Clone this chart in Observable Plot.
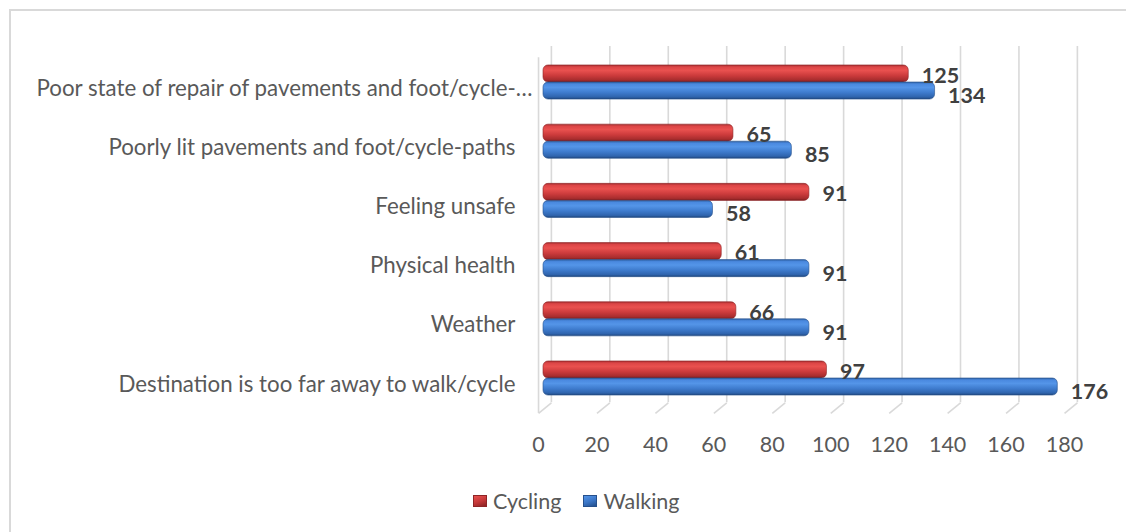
<!DOCTYPE html>
<html>
<head>
<meta charset="utf-8">
<script src="https://cdn.jsdelivr.net/npm/d3@7"></script>
<script src="https://cdn.jsdelivr.net/npm/@observablehq/plot@0.6"></script>
<style>
  body { margin: 0; background: #fff; font-family: Lato, "Open Sans", sans-serif; }
  #frame { position: absolute; left: 9px; top: 9px; width: 1300px; height: 700px;
           border-left: 2px solid #d9d9d9; border-top: 2px solid #d9d9d9; }
  #chart { position: absolute; left: 0; top: 0; }
  #legend { position: absolute; left: 473px; top: 488px; display: flex; align-items: center;
            font-size: 21.5px; color: #595959; }
  .item { display: flex; align-items: center; margin-right: 22px; }
  .sw { width: 14px; height: 12px; margin-right: 6px; box-sizing: border-box; }
</style>
</head>
<body>
<div id="frame"></div>
<div id="chart"></div>
<div id="legend"></div>
<script>
// ---- data ----
const categories = [
  "Destination is too far away to walk/cycle",
  "Weather",
  "Physical health",
  "Feeling unsafe",
  "Poorly lit pavements and foot/cycle-paths",
  "Poor state of repair of pavements and foot/cycle-…"
];
const cycling = [97, 66, 61, 91, 65, 125];
const walking = [176, 91, 91, 58, 85, 134];
const seriesNames = ["Cycling", "Walking"];
const xTicks = [0, 20, 40, 60, 80, 100, 120, 140, 160, 180];

// ---- layout constants (3D look) ----
const barH = 0.288;          // bar thickness in category units
const backOff = 2.7;         // depth offset of back wall (x units)
const frontOff = -1.7;       // depth offset of front edge (x units)
const floorFront = -0.59, floorBack = -0.41, wallTop = 5.61, leftTop = 5.42;

const rows = categories.flatMap((c, i) => [
  {cat: c, idx: i, series: seriesNames[0], value: cycling[i]},
  {cat: c, idx: i, series: seriesNames[1], value: walking[i]}
]);
const cyc = rows.filter(d => d.series === "Cycling");
const wal = rows.filter(d => d.series === "Walking");
const yTop = d => d.series === "Cycling" ? d.idx + barH : d.idx;
const yBot = d => d.series === "Cycling" ? d.idx : d.idx - barH;
const yMid = d => d.series === "Cycling" ? d.idx + barH / 2 : d.idx - barH / 2;

const font = "Lato, 'Open Sans', sans-serif";
const labelColor = "#595959";

const chart = Plot.plot({
  width: 1126,
  height: 470,
  marginLeft: 543,
  marginRight: 57,
  marginTop: 20,
  marginBottom: 40,
  style: {fontFamily: font, background: "transparent", overflow: "visible"},
  x: {domain: [0, 180]},
  y: {domain: [-0.8784, 6.0473], axis: null},
  marks: [
    // back wall gridlines
    Plot.ruleX(xTicks, {x: d => d + backOff, y1: floorBack, y2: wallTop, stroke: "#d9d9d9", strokeWidth: 1.6}),
    // floor diagonals
    Plot.link(xTicks, {x1: d => d + frontOff, x2: d => d + backOff, y1: floorFront, y2: floorBack,
                       stroke: "#d9d9d9", strokeWidth: 1.6}),
    // left wall front edge
    Plot.ruleX([0], {x: d => d + frontOff, y1: floorFront, y2: leftTop, stroke: "#d9d9d9", strokeWidth: 1.6}),
    // bars
    Plot.rect(cyc, {x1: () => 0, x2: "value", y1: yBot, y2: yTop, fill: "url(#gRed)",
                    stroke: "#8e2526", strokeWidth: 0.6, rx: 5}),
    Plot.rect(wal, {x1: () => 0, x2: "value", y1: yBot, y2: yTop, fill: "url(#gBlue)",
                    stroke: "#26508c", strokeWidth: 0.6, rx: 5}),
    // value labels
    Plot.text(cyc, {x: "value", y: yMid, text: d => String(d.value), dx: 13, dy: 2,
                     textAnchor: "start", fontWeight: "bold", fontSize: 21.5, fill: "#404040"}),
    Plot.text(wal, {x: "value", y: yMid, text: d => String(d.value), dx: 13, dy: 5,
                     textAnchor: "start", fontWeight: "bold", fontSize: 21.5, fill: "#404040"}),
    // category labels
    Plot.text(categories.slice(0, 5), {x: () => 0, y: (d, i) => i, text: d => d, dx: -28, dy: 6,
                     textAnchor: "end", fontSize: 22.3, fill: labelColor}),
    Plot.text(categories.slice(5), {x: () => 0, y: () => 5, text: d => d, dx: -11, dy: 6,
                     textAnchor: "end", fontSize: 22.3, fill: labelColor}),
    // x axis
    Plot.axisX({ticks: xTicks, tickSize: 0, tickPadding: 6, dx: -5, fontSize: 21.5,
                color: labelColor, label: null, tickFormat: d => String(d)})
  ]
});

chart.insertAdjacentHTML("afterbegin", `
<defs>
  <linearGradient id="gRed" x1="0" y1="0" x2="0" y2="1">
    <stop offset="0" stop-color="#a32d2e"/>
    <stop offset="0.12" stop-color="#dc4546"/>
    <stop offset="0.32" stop-color="#e9514f"/>
    <stop offset="0.62" stop-color="#cc3b3c"/>
    <stop offset="0.88" stop-color="#a82d2e"/>
    <stop offset="1" stop-color="#7c1d1e"/>
  </linearGradient>
  <linearGradient id="gBlue" x1="0" y1="0" x2="0" y2="1">
    <stop offset="0" stop-color="#2f62a5"/>
    <stop offset="0.12" stop-color="#4a89df"/>
    <stop offset="0.32" stop-color="#5495e8"/>
    <stop offset="0.62" stop-color="#3e7bcd"/>
    <stop offset="0.88" stop-color="#2f64ad"/>
    <stop offset="1" stop-color="#1f467c"/>
  </linearGradient>
</defs>`);
document.getElementById("chart").appendChild(chart);

// legend
const legendColors = {
  Cycling: "linear-gradient(160deg, #e9514f 0%, #c23738 55%, #8a2223 100%)",
  Walking: "linear-gradient(160deg, #5495e8 0%, #3a74c4 55%, #234f8c 100%)"
};
const legendBorder = {Cycling: "#8e2526", Walking: "#26508c"};
const legend = document.getElementById("legend");
seriesNames.forEach(name => {
  const item = document.createElement("div");
  item.className = "item";
  const sw = document.createElement("span");
  sw.className = "sw";
  sw.style.background = legendColors[name];
  sw.style.border = "1px solid " + legendBorder[name];
  const t = document.createElement("span");
  t.textContent = name;
  item.appendChild(sw);
  item.appendChild(t);
  legend.appendChild(item);
});
</script>
</body>
</html>
